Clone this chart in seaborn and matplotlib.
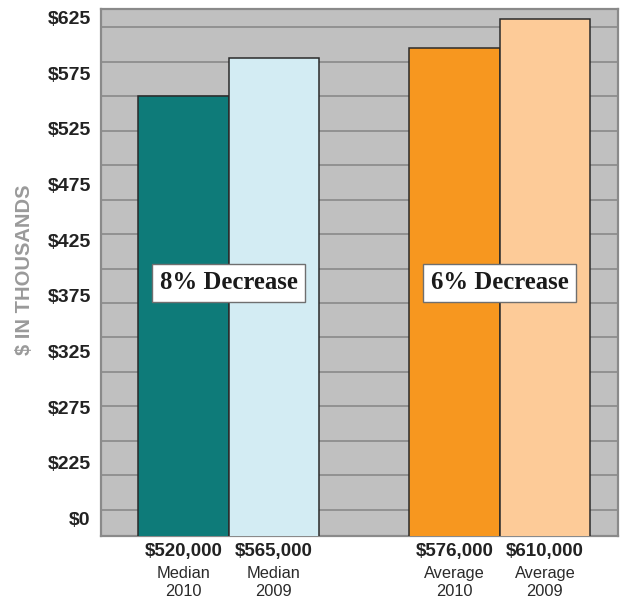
import numpy as np
import pandas as pd
import matplotlib
matplotlib.use("Agg")
import matplotlib.pyplot as plt
import matplotlib.transforms as mtransforms
import seaborn as sns

# ---- data ----
measures = ["Median", "Median", "Average", "Average"]
years = ["2010", "2009", "2010", "2009"]
prices = [520000, 565000, 576000, 610000]
positions = [0, 1, 3, 4]
bar_colors = ["#0E7B79", "#D3ECF3", "#F7971F", "#FDCB98"]
ytick_labels = ["$0", "$225", "$275", "$325", "$375", "$425", "$475", "$525", "$575", "$625"]
change_labels = ["8% Decrease", "6% Decrease"]
change_pos = [0.5, 3.5]

df = pd.DataFrame({
    "pos": positions,
    "value": [p / 1000 for p in prices],
    "key": [f"{m} {y}" for m, y in zip(measures, years)],
})

sns.set_theme(style="white")
plt.rcParams["font.family"] = ["Liberation Sans", "DejaVu Sans"]

fig = plt.figure(figsize=(6.23, 6.01), dpi=100)
ax = fig.add_axes([100.5 / 623, 1 - 535.5 / 601, 517 / 623, 526.2 / 601])
ax.set_facecolor("#C0C0C0")

sns.barplot(data=df, x="pos", y="value", hue="key", palette=bar_colors,
            native_scale=True, width=1.0, dodge=False, legend=False,
            edgecolor="#2a2a2a", linewidth=1.1, saturation=1, ax=ax, zorder=3)

ax.set_xlim(-0.919, 4.804)
ax.set_ylim(10, 621)

# grid lines (every 40 units)
ax.set_yticks(np.arange(40, 601, 40), minor=True)
ax.grid(True, which="minor", axis="y", color="#858585", linewidth=1.1, zorder=0)
ax.grid(False, which="major")
ax.set_axisbelow(True)

# tick labels evenly spaced along the axis
ax.set_yticks(np.linspace(29.7, 611.6, len(ytick_labels)))
ax.set_yticklabels(ytick_labels, fontsize=14, fontweight="bold", color="#222222")
ax.tick_params(axis="y", which="both", length=0, pad=7)
ax.tick_params(axis="x", which="both", length=0)
ax.set_xticks([])
ax.set_xlabel("")
ax.set_ylabel("$ IN THOUSANDS", fontsize=14.5, fontweight="bold", color="#9A9A9A")
ax.yaxis.set_label_coords(-0.128, 0.5045)

for s in ax.spines.values():
    s.set_color("#8A8A8A")
    s.set_linewidth(1.6)
    s.set_visible(True)

# x labels under bars
trans = mtransforms.blended_transform_factory(ax.transData, fig.transFigure)
for p, price, m, y in zip(positions, prices, measures, years):
    ax.text(p, 1 - 551.7 / 601, f"${price:,}", transform=trans, ha="center", va="center",
            fontsize=13.5, fontweight="bold", color="#222222")
    ax.text(p, 1 - 573.3 / 601, m, transform=trans, ha="center", va="center",
            fontsize=11.8, color="#2a2a2a")
    ax.text(p, 1 - 591.7 / 601, y, transform=trans, ha="center", va="center",
            fontsize=11.8, color="#2a2a2a")

# change boxes
for xp, lab in zip(change_pos, change_labels):
    ax.text(xp, 303.6, lab, ha="center", va="center", fontsize=17.8, fontweight="bold",
            family="Liberation Serif", color="#1a1a1a", zorder=5,
            bbox=dict(boxstyle="square,pad=0.3", facecolor="white", edgecolor="#6f6f6f", linewidth=1.0))

fig.savefig("out.png", dpi=100)
